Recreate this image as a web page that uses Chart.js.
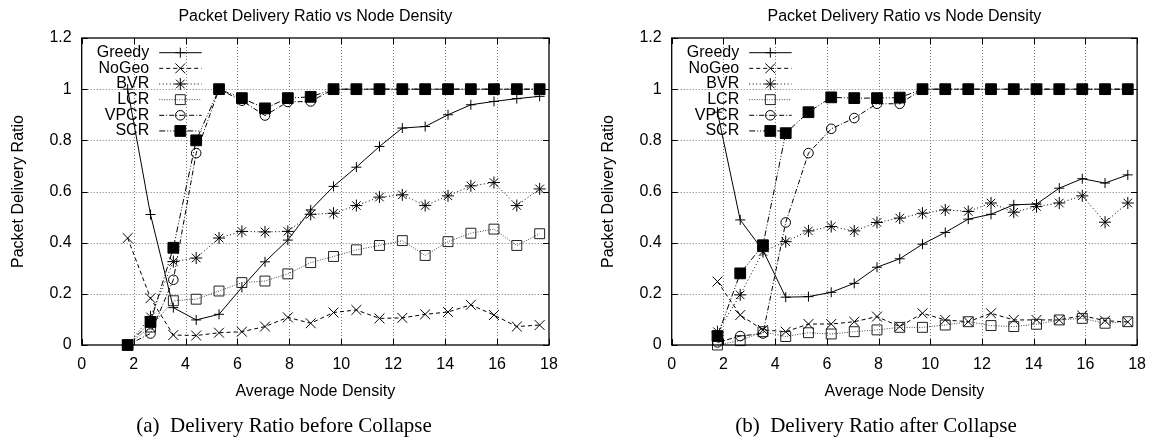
<!DOCTYPE html>
<html><head><meta charset="utf-8">
<script src="https://cdn.jsdelivr.net/npm/chart.js@4.4.1/dist/chart.umd.min.js"></script>
<style>
html,body{margin:0;padding:0;background:#fff;overflow:hidden;width:1156px;height:439px}
.wrap{position:absolute;top:0;height:439px}
.cap{position:absolute;font-family:"Liberation Serif","Times New Roman",serif;font-size:21px;color:#000;white-space:nowrap;transform:translateX(-50%);line-height:24px}
</style></head><body>
<div class="wrap" style="left:0;width:590px"><canvas id="c1"></canvas></div>
<div class="wrap" style="left:590px;width:566px"><canvas id="c2"></canvas></div>
<div class="cap" style="left:284px;top:413px">(a)&nbsp; Delivery Ratio before Collapse</div>
<div class="cap" style="left:876px;top:413px">(b)&nbsp; Delivery Ratio after Collapse</div>
<script>
// ---- data ----
const density = [1.77, 2.65, 3.53, 4.41, 5.29, 6.17, 7.06, 7.94, 8.82, 9.70, 10.58, 11.47, 12.35, 13.23, 14.11, 14.99, 15.88, 16.76, 17.64];
const seriesNames = ['Greedy', 'NoGeo', 'BVR', 'LCR', 'VPCR', 'SCR'];

const greedyBefore = [1.0, 0.51, 0.146, 0.098, 0.12, 0.225, 0.325, 0.41, 0.528, 0.62, 0.695, 0.776, 0.848, 0.854, 0.90, 0.939, 0.952, 0.963, 0.972];
const noGeoBefore  = [0.418, 0.183, 0.039, 0.037, 0.048, 0.052, 0.072, 0.108, 0.085, 0.127, 0.137, 0.104, 0.106, 0.12, 0.129, 0.157, 0.117, 0.072, 0.078];
const bvrBefore    = [0, 0.11, 0.326, 0.34, 0.418, 0.444, 0.442, 0.444, 0.511, 0.515, 0.545, 0.578, 0.587, 0.545, 0.583, 0.622, 0.635, 0.545, 0.61];
const lcrBefore    = [0, 0.07, 0.173, 0.179, 0.211, 0.244, 0.25, 0.278, 0.322, 0.346, 0.372, 0.389, 0.408, 0.35, 0.404, 0.437, 0.453, 0.389, 0.435];
const vpcrBefore   = [0, 0.045, 0.255, 0.75, 1.0, 0.955, 0.897, 0.95, 0.952, 1, 1, 1, 1, 1, 1, 1, 1, 1, 1];
const scrBefore    = [0, 0.09, 0.38, 0.80, 1.0, 0.965, 0.925, 0.965, 0.97, 1, 1, 1, 1, 1, 1, 1, 1, 1, 1];

const greedyAfter = [0.91, 0.489, 0.37, 0.187, 0.189, 0.206, 0.241, 0.304, 0.337, 0.394, 0.44, 0.492, 0.511, 0.548, 0.551, 0.613, 0.65, 0.633, 0.665];
const noGeoAfter  = [0.248, 0.117, 0.059, 0.052, 0.082, 0.082, 0.091, 0.111, 0.072, 0.124, 0.098, 0.091, 0.124, 0.098, 0.098, 0.098, 0.115, 0.095, 0.09];
const bvrAfter    = [0.052, 0.196, 0.365, 0.404, 0.446, 0.463, 0.446, 0.479, 0.496, 0.515, 0.528, 0.522, 0.555, 0.519, 0.541, 0.555, 0.583, 0.48, 0.555];
const lcrAfter    = [0, 0.017, 0.052, 0.033, 0.048, 0.043, 0.052, 0.059, 0.069, 0.069, 0.078, 0.091, 0.076, 0.072, 0.081, 0.098, 0.104, 0.085, 0.091];
const vpcrAfter   = [0.01, 0.035, 0.045, 0.479, 0.75, 0.845, 0.887, 0.943, 0.943, 1, 1, 1, 1, 1, 1, 1, 1, 1, 1];
const scrAfter    = [0.035, 0.28, 0.39, 0.828, 0.91, 0.968, 0.965, 0.965, 0.967, 1, 1, 1, 1, 1, 1, 1, 1, 1, 1];

const xTickValues = [0, 2, 4, 6, 8, 10, 12, 14, 16, 18];
const xTickLabels = ['0', '2', '4', '6', '8', '10', '12', '14', '16', '18'];
const yTickValues = [0, 0.2, 0.4, 0.6, 0.8, 1.0, 1.2];
const yTickLabels = ['0', '0.2', '0.4', '0.6', '0.8', '1', '1.2'];

const chartTitle = 'Packet Delivery Ratio vs Node Density';
const xAxisTitle = 'Average Node Density';
const yAxisTitle = 'Packet Delivery Ratio';

// ---- styles ----
const FONT = '"Liberation Sans", Arial, Helvetica, sans-serif';
const styles = [
  {pointStyle: 'cross',    radius: 5,   dash: [],                 color: '#000', fill: 'rgba(0,0,0,0)'},
  {pointStyle: 'crossRot', radius: 7,   dash: [4, 3],             color: '#000', fill: 'rgba(0,0,0,0)'},
  {pointStyle: 'star',     radius: 6,   dash: [1, 2.5],           color: '#000', fill: 'rgba(0,0,0,0)'},
  {pointStyle: 'rect',     radius: 7,   dash: [1, 1.5],           color: '#444', fill: 'rgba(0,0,0,0)'},
  {pointStyle: 'circle',   radius: 4.8, dash: [5, 2, 1, 2],       color: '#000', fill: 'rgba(0,0,0,0)'},
  {pointStyle: 'rect',     radius: 7.6, dash: [6, 2, 1, 2, 1, 2], color: '#000', fill: '#000'}
];

function makeDatasets(seriesList) {
  return seriesList.map((vals, i) => {
    const s = styles[i];
    return {
      label: seriesNames[i],
      data: density.map((x, k) => ({x: x, y: vals[k]})),
      borderColor: s.color,
      borderWidth: 1,
      borderDash: s.dash,
      pointStyle: s.pointStyle,
      pointRadius: s.radius,
      pointHoverRadius: s.radius,
      pointBorderWidth: 1,
      pointBorderColor: i === 3 ? '#222' : '#000',
      pointBackgroundColor: s.fill,
      backgroundColor: s.fill,
      fill: false,
      tension: 0,
      clip: false,
      order: 10 - i
    };
  });
}

const gnuLegend = {
  id: 'gnuLegend',
  afterDatasetsDraw(chart) {
    const {ctx, chartArea: a} = chart;
    ctx.save();
    chart.data.datasets.forEach((ds, i) => {
      const y = a.top + 14.7 + i * 15.65;
      ctx.font = '16px ' + FONT;
      ctx.textAlign = 'right';
      ctx.textBaseline = 'middle';
      ctx.fillStyle = '#000';
      ctx.fillText(ds.label, a.left + 67.5, y);
      ctx.save();
      ctx.strokeStyle = ds.borderColor;
      ctx.lineWidth = 1;
      ctx.setLineDash(ds.borderDash || []);
      ctx.beginPath();
      ctx.moveTo(a.left + 77.5, y);
      ctx.lineTo(a.left + 120, y);
      ctx.stroke();
      ctx.restore();
      ctx.save();
      ctx.setLineDash([]);
      ctx.fillStyle = ds.pointBackgroundColor;
      ctx.strokeStyle = ds.pointBorderColor;
      ctx.lineWidth = 1;
      Chart.helpers.drawPoint(ctx, {pointStyle: ds.pointStyle, radius: ds.pointRadius, borderWidth: 1, rotation: 0}, a.left + 98.6, y);
      ctx.restore();
    });
    ctx.restore();
  }
};

const frame = {
  id: 'frame',
  beforeDatasetsDraw(chart) {
    const {ctx, chartArea: a, scales} = chart;
    ctx.save();
    ctx.strokeStyle = '#777';
    ctx.lineWidth = 1;
    ctx.setLineDash([1, 2]);
    ctx.beginPath();
    xTickValues.slice(1, -1).forEach(v => {
      const px = Math.round(scales.x.getPixelForValue(v)) + 0.5;
      ctx.moveTo(px, a.top); ctx.lineTo(px, a.bottom);
    });
    yTickValues.slice(1, -1).forEach(v => {
      const py = Math.round(scales.y.getPixelForValue(v)) + 0.5;
      ctx.moveTo(a.left, py); ctx.lineTo(a.right, py);
    });
    ctx.stroke();
    ctx.restore();
  },
  afterDraw(chart) {
    const {ctx, chartArea: a, scales} = chart;
    ctx.save();
    ctx.strokeStyle = '#000';
    ctx.lineWidth = 1.3;
    ctx.setLineDash([]);
    ctx.strokeRect(a.left, a.top, a.right - a.left, a.bottom - a.top);
    ctx.lineWidth = 1;
    ctx.beginPath();
    xTickValues.forEach(v => {
      const px = Math.round(scales.x.getPixelForValue(v)) + 0.5;
      ctx.moveTo(px, a.bottom); ctx.lineTo(px, a.bottom - 6);
      ctx.moveTo(px, a.top); ctx.lineTo(px, a.top + 6);
    });
    yTickValues.forEach(v => {
      const py = Math.round(scales.y.getPixelForValue(v)) + 0.5;
      ctx.moveTo(a.left, py); ctx.lineTo(a.left + 6, py);
      ctx.moveTo(a.right, py); ctx.lineTo(a.right - 6, py);
    });
    ctx.stroke();
    ctx.restore();
  }
};

function makeChart(id, seriesList, padRight) {
  return new Chart(document.getElementById(id), {
    type: 'line',
    data: {datasets: makeDatasets(seriesList)},
    plugins: [gnuLegend, frame],
    options: {
      responsive: true,
      maintainAspectRatio: false,
      animation: false,
      devicePixelRatio: 1,
      layout: {padding: {left: 0, right: padRight, top: 0, bottom: 0}},
      plugins: {
        legend: {display: false},
        tooltip: {enabled: false},
        title: {
          display: true, text: chartTitle, fullSize: false, color: '#000',
          font: {family: FONT, size: 16, weight: 'normal', lineHeight: 1.2},
          padding: {top: 7, bottom: 11.8}
        }
      },
      scales: {
        x: {
          type: 'linear', min: 0, max: 18,
          afterFit(s) { s.height = 94; },
          afterBuildTicks(s) { s.ticks = xTickValues.map(v => ({value: v})); },
          ticks: {
            color: '#000', padding: 10, maxRotation: 0, autoSkip: false,
            font: {family: FONT, size: 16, lineHeight: 1.2},
            callback: (v) => xTickLabels[xTickValues.indexOf(v)]
          },
          grid: {display: false, drawTicks: false},
          border: {display: false},
          title: {display: true, text: xAxisTitle, color: '#000',
                  font: {family: FONT, size: 16, lineHeight: 1.2}, padding: {top: 0, bottom: 37.4}}
        },
        y: {
          type: 'linear', min: 0, max: 1.2,
          afterFit(s) { s.width = 81.7; },
          afterBuildTicks(s) { s.ticks = yTickValues.map(v => ({value: v})); },
          ticks: {
            color: '#000', padding: 10, autoSkip: false,
            font: {family: FONT, size: 16, lineHeight: 1.2},
            callback: (v) => yTickLabels[yTickValues.indexOf(v)]
          },
          grid: {display: false, drawTicks: false},
          border: {display: false},
          title: {display: true, text: yAxisTitle, color: '#000',
                  font: {family: FONT, size: 16, lineHeight: 1.2}, padding: {top: 8.7, bottom: 0}}
        }
      }
    }
  });
}

makeChart('c1', [greedyBefore, noGeoBefore, bvrBefore, lcrBefore, vpcrBefore, scrBefore], 41);
makeChart('c2', [greedyAfter, noGeoAfter, bvrAfter, lcrAfter, vpcrAfter, scrAfter], 16.3);
</script>
</body></html>
